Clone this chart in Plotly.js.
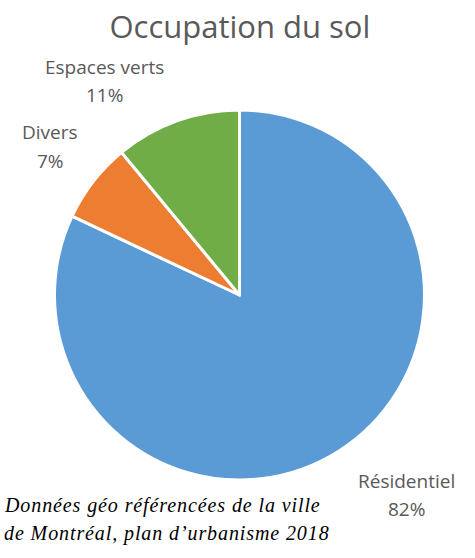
<!DOCTYPE html>
<html>
<head>
<meta charset="utf-8">
<script src="https://cdn.plot.ly/plotly-3.0.1.min.js"></script>
<style>html,body{margin:0;padding:0;background:#fff;}#chart{width:475px;height:558px;}</style>
</head>
<body>
<div id="chart"></div>
<script>
const categories = ["Résidentiel", "Divers", "Espaces verts"];
const shares = [82, 7, 11];
const colors = ["#5B9BD5", "#ED7D31", "#70AD47"];
const titleText = "Occupation du sol";
const captionLines = ["Données géo référencées de la ville", "de Montréal, plan d’urbanisme 2018"];

// label anchor positions (pixels in the 475x558 frame), layout only
const labelPos = [[406, 481, 509], [50, 132, 161], [104, 67, 95]];

const W = 475, H = 558;
const px = x => x / W, py = y => 1 - y / H;
const total = shares.reduce((a, b) => a + b, 0);

const labelFont = {family: 'Open Sans', size: 19, color: '#595959'};
const annotations = [];
categories.forEach((c, i) => {
  const p = labelPos[i];
  annotations.push({xref: 'paper', yref: 'paper', x: px(p[0]), y: py(p[1]), text: c, showarrow: false,
    xanchor: 'center', yanchor: 'middle', font: labelFont});
  annotations.push({xref: 'paper', yref: 'paper', x: px(p[0]), y: py(p[2]), text: Math.round(shares[i] / total * 100) + '%', showarrow: false,
    xanchor: 'center', yanchor: 'middle', font: labelFont});
});
captionLines.forEach((t, i) => {
  annotations.push({xref: 'paper', yref: 'paper', x: px(2), y: py(505 + i * 28),
    text: '<span style="letter-spacing:0.9px"><i>' + t + '</i></span>', showarrow: false,
    xanchor: 'left', yanchor: 'middle', font: {family: 'Liberation Serif', size: 20, color: '#000'}});
});

const cx = 239.5, cy = 295, r = 185;
const data = [{
  type: 'pie',
  labels: categories,
  values: shares,
  sort: false,
  direction: 'clockwise',
  rotation: 0,
  marker: {colors: colors, line: {color: '#ffffff', width: 3}},
  textinfo: 'none',
  hoverinfo: 'label+percent',
  showlegend: false,
  domain: {x: [px(cx - r), px(cx + r)], y: [py(cy + r), py(cy - r)]}
}];

const layout = {
  width: W, height: H,
  margin: {l: 0, r: 0, t: 0, b: 0},
  paper_bgcolor: '#ffffff',
  title: {text: titleText, x: 0.505, xanchor: 'center', y: 1 - 27 / H, yanchor: 'middle',
    font: {family: 'Open Sans', size: 31, color: '#595959'}},
  annotations: annotations,
  showlegend: false
};

Plotly.newPlot('chart', data, layout, {displayModeBar: false, staticPlot: true});
</script>
</body>
</html>
